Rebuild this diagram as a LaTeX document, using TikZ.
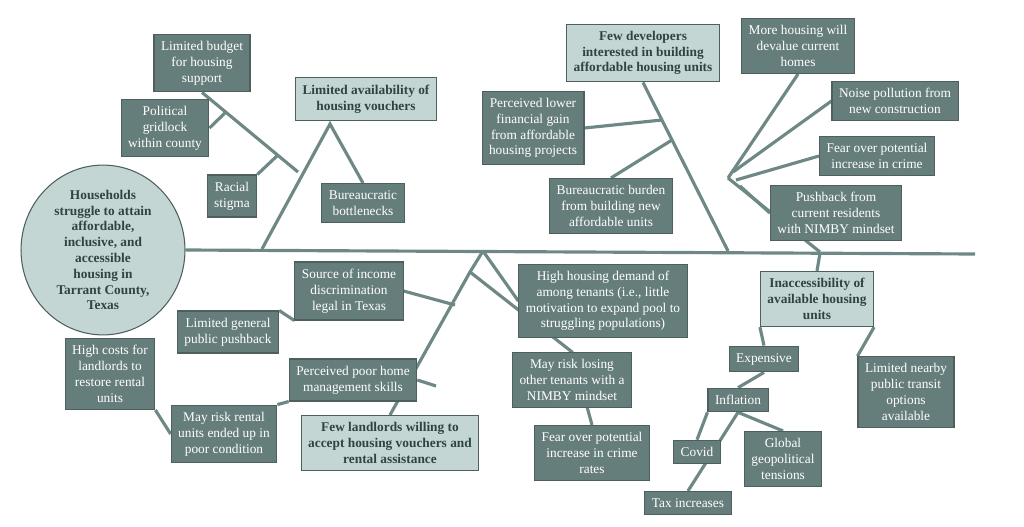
\documentclass[tikz,border=0pt]{standalone}
\usepackage{fontspec}
\usetikzlibrary{shapes.geometric,backgrounds}
\setmainfont{Liberation Serif}
\definecolor{boxdark}{HTML}{667E7B}
\definecolor{boxlight}{HTML}{C3D6D3}
\definecolor{bone}{HTML}{6E8886}
\definecolor{ink}{HTML}{2F4442}
\tikzset{
  dark/.style = {draw=bone!70!black, fill=boxdark, text=white, font=\fontsize{7.6}{9}\selectfont, align=center, inner sep=4pt, line width=0.6pt},
  light/.style = {draw=bone!70!black, fill=boxlight, text=ink, font=\bfseries\fontsize{7.6}{9}\selectfont, align=center, inner sep=4pt, line width=0.6pt},
  bn/.style = {draw=bone, line width=1.8pt}
}
\begin{document}
\begin{tikzpicture}[x=0.02cm, y=-0.02cm]
\useasboundingbox (0,0) rectangle (1024,527);
% effect
\node[light, ellipse, inner sep=0pt, minimum width=3.28cm, minimum height=3.12cm] (effect) at (103,250) {Households\\struggle to attain\\affordable,\\inclusive, and\\accessible\\housing in\\Tarrant County,\\Texas};
\coordinate (tail) at (975,254);
% upper left
\node[dark] (budget) at (202,63) {Limited budget\\for housing\\support};
\node[dark] (gridlock) at (165,128) {Political\\gridlock\\within county};
\node[dark] (stigma) at (232,196) {Racial\\stigma};
\node[light] (vouchers) at (366,99) {Limited availability of\\housing vouchers};
\node[dark] (bottle) at (363,203) {Bureaucratic\\bottlenecks};
\coordinate (ul0) at (262,249);
\coordinate (ul1) at (330,124);
\coordinate (ul2) at (298,172);
\coordinate (ul3) at (226,112);
\coordinate (ul4) at (278,155);
% upper middle
\node[light] (devs) at (643,53) {Few developers\\interested in building\\affordable housing units};
\node[dark] (gain) at (533,128) {Perceived lower\\financial gain\\from affordable\\housing projects};
\node[dark] (burden) at (611,206) {Bureaucratic burden\\from building new\\affordable units};
\coordinate (um0) at (728,251);
\coordinate (um1) at (662,120);
\coordinate (um2) at (672,140);
% upper right
\node[dark] (devalue) at (798,46) {More housing will\\devalue current\\homes};
\node[dark] (noise) at (895,101) {Noise pollution from\\new construction};
\node[dark] (crime) at (877,156) {Fear over potential\\increase in crime};
\node[dark] (pushback) at (836,213) {Pushback from\\current residents\\with NIMBY mindset};
\coordinate (ur0) at (820,252);
\coordinate (ur1) at (728,178);
% lower middle
\node[dark] (income) at (349,291) {Source of income\\discrimination\\legal in Texas};
\node[dark] (public) at (228,332) {Limited general\\public pushback};
\node[dark] (costs) at (110,374) {High costs for\\landlords to\\restore rental\\units};
\node[dark] (skills) at (353,380) {Perceived poor home\\management skills};
\node[dark] (condition) at (224,434) {May risk rental\\units ended up in\\poor condition};
\node[light] (landlords) at (390,443) {Few landlords willing to\\accept housing vouchers and\\rental assistance};
\node[dark] (demand) at (603,301) {High housing demand of\\among tenants (i.e., little\\motivation to expand pool to\\struggling populations)};
\node[dark] (nimby) at (572,380) {May risk losing\\other tenants with a\\NIMBY mindset};
\node[dark] (rates) at (592,453) {Fear over potential\\increase in crime\\rates};
\coordinate (lm0) at (483,251);
\coordinate (lm1) at (470,272);
\coordinate (lm2) at (455,305);
% lower right
\node[light] (access) at (817,299) {Inaccessibility of\\available housing\\units};
\node[dark] (expensive) at (764,359) {Expensive};
\node[dark] (inflation) at (738,400) {Inflation};
\node[dark] (covid) at (697,452) {Covid};
\node[dark] (global) at (783,459) {Global\\geopolitical\\tensions};
\node[dark] (tax) at (688,503) {Tax increases};
\node[dark] (transit) at (906,392) {Limited nearby\\public transit\\options\\available};
\coordinate (lr0) at (820,253);
% bones behind the boxes
\begin{scope}[on background layer]
\draw[bn] (effect.east) -- (tail);
\draw[bn] (ul0) -- (ul1) -- (bottle.north);
\draw[bn] (ul2) -- (budget.south);
\draw[bn] (gridlock.east) -- (ul3);
\draw[bn] (stigma.north east) -- (ul4);
\draw[bn] (um0) -- (devs.south);
\draw[bn] (gain.east) -- (um1);
\draw[bn] (burden.north) -- (um2);
\draw[bn] (ur0) -- (ur1);
\draw[bn] (ur1) -- (devalue.south);
\draw[bn] (ur1) ++(5,-6) -- (noise.west);
\draw[bn] (ur1) ++(8,2) -- (crime.west);
\draw[bn] (ur1) ++(12,8) -- (pushback.west);
\draw[bn] (lm0) -- (lm1) -- (landlords.north);
\draw[bn] (lm0) -- (demand.west);
\draw[bn] (lm1) -- (nimby.north) -- (rates.north);
\draw[bn] (income.east) -- (lm2);
\draw[bn] (income.south west) -- (public.north east);
\draw[bn] (skills.east) -- (436,386);
\draw[bn] (skills.south west) -- (condition.north east);
\draw[bn] (costs.south east) -- (condition.west);
\draw[bn] (lr0) -- (access.north);
\draw[bn] (expensive.north) -- (access.south west);
\draw[bn] (inflation.north) -- (expensive.south);
\draw[bn] (covid.north) -- (inflation.south west);
\draw[bn] (global.north) -- (inflation.south);
\draw[bn] (tax.north) -- (inflation.south);
\draw[bn] (transit.north west) -- (access.south east);
\end{scope}
\end{tikzpicture}
\end{document}
